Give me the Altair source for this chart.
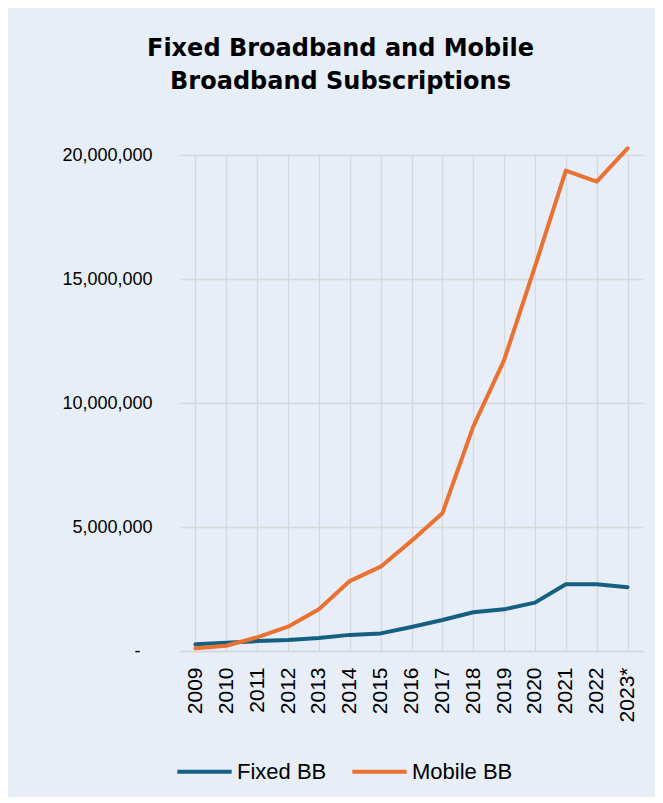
import altair as alt
import pandas as pd

years = ["2009", "2010", "2011", "2012", "2013", "2014", "2015", "2016",
         "2017", "2018", "2019", "2020", "2021", "2022", "2023*"]
fixed_bb = [270000, 330000, 400000, 440000, 520000, 650000, 710000, 970000,
            1250000, 1560000, 1680000, 1950000, 2690000, 2690000, 2570000]
mobile_bb = [110000, 210000, 550000, 980000, 1680000, 2820000, 3400000, 4440000,
             5550000, 9050000, 11730000, 15500000, 19370000, 18930000, 20270000]
series_names = ["Fixed BB", "Mobile BB"]
series_colors = ["#156082", "#E97132"]
y_ticks = [0, 5000000, 10000000, 15000000, 20000000]

rows = []
for name, vals in zip(series_names, [fixed_bb, mobile_bb]):
    for yr, v in zip(years, vals):
        rows.append({"year": yr, "value": v, "series": name})
df = pd.DataFrame(rows)

FONT = "Liberation Sans"
TFONT = "DejaVu Sans"
BG = "#E7EEF7"
GRID = "#D6D8DA"

chart = alt.Chart(df).mark_line(strokeWidth=4, strokeCap="round", strokeJoin="round").encode(
    x=alt.X("year:O", sort=years,
            scale=alt.Scale(type="point", padding=0.5),
            axis=alt.Axis(title=None, labelAngle=-90, labelFontSize=21, labelFont=FONT,
                          labelColor="#000000", labelPadding=16, ticks=False,
                          grid=True, gridColor=GRID, gridWidth=1.2,
                          domain=True, domainColor=GRID, domainWidth=1.5)),
    y=alt.Y("value:Q",
            scale=alt.Scale(domain=[0, 20000000], nice=False),
            axis=alt.Axis(title=None, values=y_ticks, ticks=False, domain=False,
                          labelExpr="datum.value == 0 ? '-' : format(datum.value, ',')",
                          labelFontSize=18, labelFont=FONT, labelColor="#000000",
                          labelPadding={"condition": {"test": "datum.value == 0", "value": 40},
                                        "value": 28},
                          grid=True, gridColor=GRID, gridWidth=1.5)),
    color=alt.Color("series:N",
                    scale=alt.Scale(domain=series_names, range=series_colors),
                    legend=alt.Legend(title=None, orient="none", legendX=-5, legendY=587,
                                      direction="horizontal", symbolType="stroke",
                                      symbolSize=2950, symbolStrokeWidth=4,
                                      labelFontSize=22, labelFont=FONT, labelColor="#000000",
                                      labelOffset=3, columnPadding=17)),
).properties(
    width=463,
    height=496,
    background=BG,
    padding={"left": 172, "top": 147, "right": 12, "bottom": 146},
    autosize=alt.AutoSizeParams(type="none"),
    title=alt.TitleParams(
        text=["Fixed Broadband and Mobile", "Broadband Subscriptions"],
        fontSize=24, font=TFONT, fontWeight="bold", color="#000000",
        anchor="middle", dx=-71, lineHeight=33, offset=52,
    ),
).configure_view(stroke=None)

chart.save("out.html", embed_options={"renderer": "svg", "actions": False})
